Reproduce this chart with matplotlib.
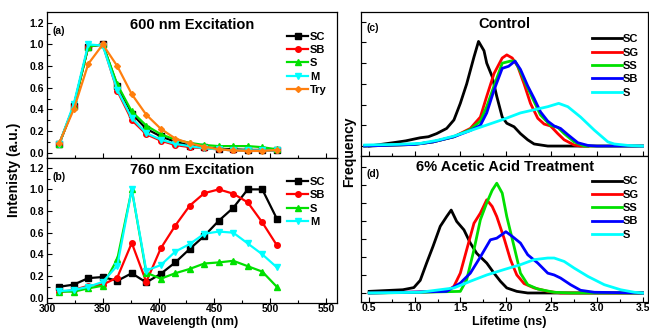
import matplotlib
matplotlib.use("Agg")
import matplotlib.pyplot as plt

plt.rcParams['font.family'] = ['Liberation Sans', 'DejaVu Sans']
plt.rcParams['font.weight'] = 'bold'

# ---- left panels: emission spectra ----
wavelength = [311, 324, 337, 350, 363, 376, 389, 402, 415, 428, 441, 454, 467, 480, 493, 506]

ex600_SC = [0.08, 0.43, 0.98, 1.00, 0.62, 0.36, 0.22, 0.15, 0.10, 0.065, 0.05, 0.035, 0.03, 0.025, 0.025, 0.02]
ex600_SB = [0.08, 0.43, 0.98, 1.00, 0.57, 0.30, 0.17, 0.11, 0.07, 0.05, 0.04, 0.03, 0.02, 0.02, 0.02, 0.02]
ex600_S = [0.08, 0.43, 0.98, 1.00, 0.63, 0.38, 0.25, 0.17, 0.12, 0.09, 0.07, 0.06, 0.06, 0.06, 0.05, 0.03]
ex600_M = [0.08, 0.45, 1.00, 0.99, 0.58, 0.32, 0.18, 0.12, 0.08, 0.06, 0.04, 0.03, 0.02, 0.02, 0.02, 0.02]
ex600_Try = [0.09, 0.40, 0.82, 1.00, 0.80, 0.54, 0.35, 0.22, 0.13, 0.085, 0.055, 0.03, 0.02, 0.015, 0.015, 0.025]

ex760_SC = [0.10, 0.12, 0.18, 0.19, 0.155, 0.225, 0.14, 0.22, 0.325, 0.45, 0.57, 0.71, 0.83, 1.00, 1.00, 0.73]
ex760_SB = [0.05, 0.07, 0.11, 0.12, 0.185, 0.505, 0.145, 0.455, 0.665, 0.85, 0.965, 1.00, 0.96, 0.88, 0.695, 0.485]
ex760_S = [0.055, 0.055, 0.085, 0.11, 0.355, 1.00, 0.23, 0.175, 0.225, 0.265, 0.315, 0.325, 0.34, 0.29, 0.24, 0.10]
ex760_M = [0.06, 0.07, 0.10, 0.145, 0.295, 1.00, 0.25, 0.30, 0.425, 0.495, 0.59, 0.61, 0.60, 0.50, 0.40, 0.28]

# ---- right panels: lifetime histograms ----
c_SC_x = [0.5, 0.76, 0.9, 1.06, 1.15, 1.24, 1.35, 1.43, 1.5, 1.57, 1.65, 1.7, 1.76, 1.79, 1.85, 1.9, 1.96, 2.01, 2.09, 2.16, 2.24, 2.31, 2.46, 2.9]
c_SC_y = [0.0, 0.16, 0.25, 0.4, 0.45, 0.6, 0.85, 1.26, 2.06, 3.0, 4.3, 5.05, 4.6, 4.0, 3.35, 2.4, 1.4, 1.1, 0.93, 0.6, 0.3, 0.1, 0.0, 0.0]
c_SG_x = [0.45, 1.0, 1.2, 1.43, 1.61, 1.72, 1.79, 1.87, 1.96, 2.01, 2.07, 2.13, 2.2, 2.27, 2.35, 2.42, 2.49, 2.57, 2.64, 2.75, 2.82, 3.5]
c_SG_y = [0.0, 0.08, 0.2, 0.45, 0.85, 1.4, 2.4, 3.5, 4.25, 4.4, 4.25, 3.85, 3.0, 2.06, 1.34, 1.06, 0.97, 0.6, 0.3, 0.05, 0.0, 0.0]
c_SS_x = [0.45, 1.0, 1.2, 1.43, 1.61, 1.72, 1.79, 1.87, 1.96, 2.05, 2.1, 2.16, 2.23, 2.31, 2.38, 2.49, 2.57, 2.64, 2.75, 2.86, 3.5]
c_SS_y = [0.0, 0.08, 0.2, 0.45, 0.8, 1.2, 1.9, 2.9, 4.0, 4.1, 4.1, 3.6, 2.9, 2.15, 1.5, 1.0, 0.9, 0.6, 0.2, 0.0, 0.0]
c_SB_x = [0.45, 1.0, 1.2, 1.43, 1.61, 1.72, 1.79, 1.87, 1.96, 2.03, 2.1, 2.16, 2.24, 2.31, 2.38, 2.46, 2.53, 2.6, 2.68, 2.79, 2.9, 3.0, 3.5]
c_SB_y = [0.0, 0.08, 0.2, 0.45, 0.75, 1.0, 1.6, 2.7, 3.75, 3.85, 4.1, 3.7, 2.9, 2.3, 1.65, 1.2, 0.97, 0.85, 0.55, 0.16, 0.03, 0.0, 0.0]
c_S_x = [0.45, 0.8, 1.06, 1.25, 1.43, 1.68, 1.98, 2.16, 2.31, 2.46, 2.58, 2.68, 2.82, 2.97, 3.12, 3.19, 3.34, 3.5]
c_S_y = [0.05, 0.08, 0.13, 0.28, 0.48, 0.85, 1.3, 1.6, 1.75, 1.9, 2.06, 1.9, 1.4, 0.77, 0.2, 0.1, 0.03, 0.0]

d_SC_x = [0.5, 0.87, 0.99, 1.06, 1.13, 1.2, 1.28, 1.35, 1.4, 1.46, 1.54, 1.61, 1.68, 1.79, 1.87, 1.94, 2.01, 2.12, 2.24, 3.5]
d_SC_y = [0.09, 0.18, 0.3, 0.7, 1.66, 2.58, 3.7, 4.24, 4.6, 3.97, 3.5, 2.77, 2.2, 1.66, 1.1, 0.65, 0.28, 0.09, 0.0, 0.0]
d_SG_x = [0.5, 1.0, 1.35, 1.43, 1.5, 1.57, 1.65, 1.72, 1.79, 1.85, 1.9, 1.98, 2.05, 2.12, 2.2, 2.31, 2.46, 2.6, 3.5]
d_SG_y = [0.0, 0.05, 0.09, 0.37, 1.1, 2.4, 3.87, 4.43, 5.17, 4.8, 4.24, 3.04, 1.85, 1.0, 0.52, 0.28, 0.09, 0.0, 0.0]
d_SS_x = [0.5, 1.0, 1.5, 1.57, 1.65, 1.72, 1.79, 1.85, 1.9, 1.96, 2.01, 2.09, 2.16, 2.24, 2.35, 2.53, 2.71, 3.5]
d_SS_y = [0.0, 0.03, 0.09, 0.74, 2.4, 4.06, 5.0, 5.7, 6.09, 5.54, 4.24, 2.58, 1.1, 0.46, 0.22, 0.04, 0.0, 0.0]
d_SB_x = [0.5, 1.0, 1.35, 1.5, 1.61, 1.72, 1.83, 1.9, 2.0, 2.07, 2.16, 2.24, 2.35, 2.46, 2.53, 2.6, 2.71, 2.82, 2.97, 3.5]
d_SB_y = [0.0, 0.05, 0.09, 0.55, 1.1, 2.0, 2.95, 3.04, 3.4, 3.14, 2.77, 2.12, 1.66, 1.1, 1.0, 0.83, 0.46, 0.15, 0.04, 0.0]
d_S_x = [0.5, 1.06, 1.43, 1.61, 1.79, 1.98, 2.16, 2.31, 2.46, 2.53, 2.64, 2.75, 2.9, 3.08, 3.26, 3.41, 3.5]
d_S_y = [0.0, 0.04, 0.28, 0.65, 1.0, 1.3, 1.57, 1.85, 1.94, 1.94, 1.75, 1.38, 0.92, 0.46, 0.18, 0.04, 0.0]

BLACK, RED, GREEN, BLUE, CYAN, ORANGE = 'black', '#ff0000', '#00e000', '#0000ff', '#00ffff', '#ff7f0e'

W, H = 649, 328
fig = plt.figure(figsize=(W / 100, H / 100), dpi=100)


def px_axes(x0, y0, x1, y1):
    return fig.add_axes([x0 / W, 1 - y1 / H, (x1 - x0) / W, (y1 - y0) / H])


ax_a = px_axes(47, 12, 337, 158)
ax_b = px_axes(47, 158, 337, 303)
ax_c = px_axes(361, 12, 648, 156)
ax_d = px_axes(361, 156, 648, 302)

# spectra
mk = dict(lw=1.6, ms=4)
ax_a.plot(wavelength, ex600_SC, '-s', color=BLACK, label='SC', **mk)
ax_a.plot(wavelength, ex600_SB, '-o', color=RED, label='SB', **mk)
ax_a.plot(wavelength, ex600_S, '-^', color=GREEN, label='S', **mk)
ax_a.plot(wavelength, ex600_M, '-v', color=CYAN, label='M', **mk)
ax_a.plot(wavelength, ex600_Try, '-D', color=ORANGE, label='Try', lw=1.6, ms=3)

ax_b.plot(wavelength, ex760_SC, '-s', color=BLACK, label='SC', **mk)
ax_b.plot(wavelength, ex760_SB, '-o', color=RED, label='SB', **mk)
ax_b.plot(wavelength, ex760_S, '-^', color=GREEN, label='S', **mk)
ax_b.plot(wavelength, ex760_M, '-v', color=CYAN, label='M', **mk)

for ax, ylim, ytop in ((ax_a, (-0.05, 1.3), 0.865), (ax_b, (-0.05, 1.29), 0.87)):
    ax.set_xlim(300, 560)
    ax.set_ylim(*ylim)
    ax.set_xticks([300, 350, 400, 450, 500, 550])
    ax.set_xticks([325, 375, 425, 475, 525], minor=True)
    ax.set_yticks([0.0, 0.2, 0.4, 0.6, 0.8, 1.0, 1.2])
    ax.set_yticks([0.1, 0.3, 0.5, 0.7, 0.9, 1.1], minor=True)
    ax.yaxis.set_major_formatter(matplotlib.ticker.FormatStrFormatter('%.1f'))
    ax.legend(loc='upper left', bbox_to_anchor=(0.828, ytop), frameon=False,
              handlelength=1.9, handletextpad=0.15, labelspacing=0.3,
              borderaxespad=0, borderpad=0, prop={'weight': 'bold', 'size': 8})
ax_a.tick_params(labelbottom=False)

# lifetime histograms
lw = 2.0
ax_c.plot(c_SC_x, c_SC_y, color=BLACK, lw=lw, label='SC')
ax_c.plot(c_SG_x, c_SG_y, color=RED, lw=lw, label='SG')
ax_c.plot(c_SS_x, c_SS_y, color=GREEN, lw=lw, label='SS')
ax_c.plot(c_SB_x, c_SB_y, color=BLUE, lw=lw, label='SB')
ax_c.plot(c_S_x, c_S_y, color=CYAN, lw=lw, label='S')

ax_d.plot(d_SC_x, d_SC_y, color=BLACK, lw=lw, label='SC')
ax_d.plot(d_SG_x, d_SG_y, color=RED, lw=lw, label='SG')
ax_d.plot(d_SS_x, d_SS_y, color=GREEN, lw=lw, label='SS')
ax_d.plot(d_SB_x, d_SB_y, color=BLUE, lw=lw, label='SB')
ax_d.plot(d_S_x, d_S_y, color=CYAN, lw=lw, label='S')

for ax, ylim, top, ytop in ((ax_c, (-0.48, 6.47), 6, 0.845), (ax_d, (-0.5, 7.6), 7, 0.86)):
    ax.set_xlim(0.41, 3.56)
    ax.set_ylim(*ylim)
    ax.set_xticks([0.5, 1.0, 1.5, 2.0, 2.5, 3.0, 3.5])
    ax.set_xticks([0.75, 1.25, 1.75, 2.25, 2.75, 3.25], minor=True)
    ax.set_yticks(range(0, top + 1))
    ax.tick_params(axis='y', labelleft=False)
    ax.legend(loc='upper left', bbox_to_anchor=(0.805, ytop), frameon=False,
              handlelength=2.7, handletextpad=0.1, labelspacing=0.3,
              borderaxespad=0, borderpad=0, prop={'weight': 'bold', 'size': 8})
ax_c.tick_params(labelbottom=False)

for ax in (ax_a, ax_b, ax_c, ax_d):
    ax.tick_params(which='both', direction='in', labelsize=7.5, width=0.8, pad=2)
    ax.tick_params(axis='x', pad=1)
    ax.tick_params(which='major', length=3.5)
    ax.tick_params(which='minor', length=2)
    for lab in ax.get_xticklabels() + ax.get_yticklabels():
        lab.set_fontweight('bold')
    for sp in ax.spines.values():
        sp.set_linewidth(0.9)

# titles and panel labels
ax_a.text(0.5, 0.91, '600 nm Excitation', transform=ax_a.transAxes, ha='center', va='center', fontsize=10.5, fontweight='bold')
ax_b.text(0.5, 0.92, '760 nm Excitation', transform=ax_b.transAxes, ha='center', va='center', fontsize=10.5, fontweight='bold')
ax_c.text(0.5, 0.92, 'Control', transform=ax_c.transAxes, ha='center', va='center', fontsize=10.5, fontweight='bold')
ax_d.text(0.5, 0.925, '6% Acetic Acid Treatment', transform=ax_d.transAxes, ha='center', va='center', fontsize=10.5, fontweight='bold')
for ax, lab, y in ((ax_a, '(a)', 0.87), (ax_b, '(b)', 0.87), (ax_c, '(c)', 0.89), (ax_d, '(d)', 0.88)):
    ax.text(0.02, y, lab, transform=ax.transAxes, ha='left', va='center', fontsize=7.5, fontweight='bold')

fig.text(188 / W, 1 - 321.5 / H, 'Wavelength (nm)', ha='center', va='center', fontsize=9, fontweight='bold')
fig.text(509 / W, 1 - 321.5 / H, 'Lifetime (ns)', ha='center', va='center', fontsize=9, fontweight='bold')
fig.text(14 / W, 1 - 170 / H, 'Intenisty (a.u.)', rotation=90, ha='center', va='center', fontsize=10, fontweight='bold')
fig.text(349 / W, 1 - 152 / H, 'Frequency', rotation=90, ha='center', va='center', fontsize=10, fontweight='bold')

fig.savefig('out.png', dpi=100)
